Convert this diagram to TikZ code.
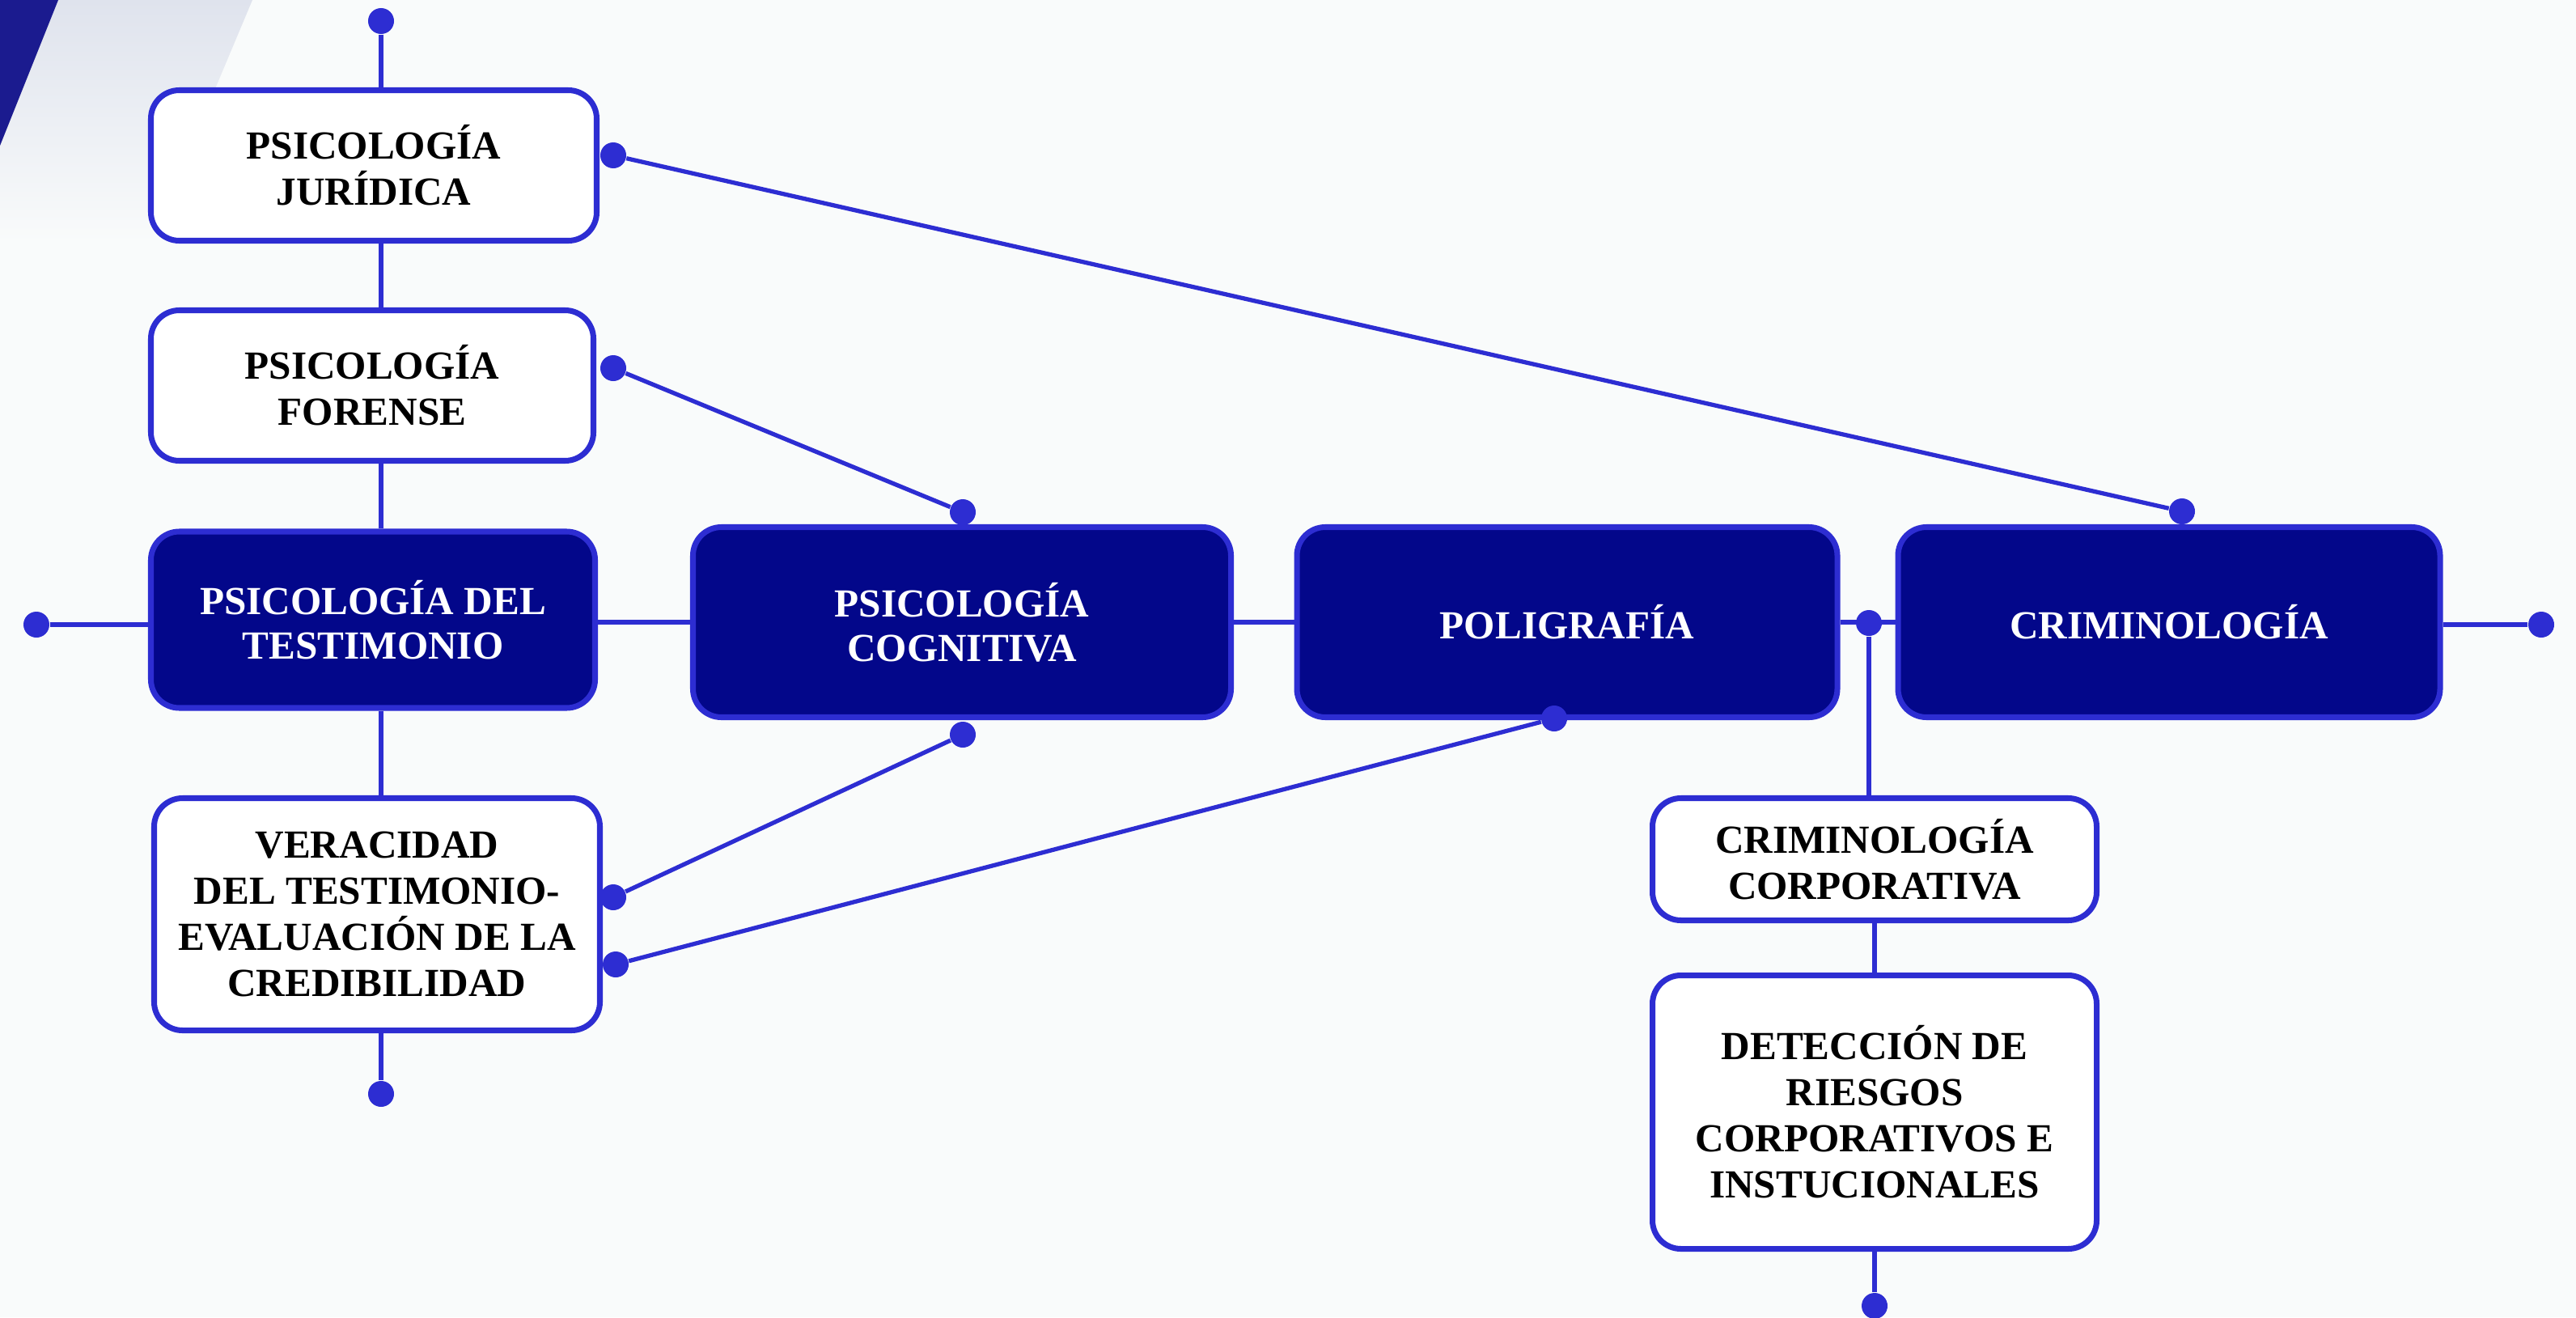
\documentclass[tikz,border=0pt]{standalone}
\usepackage{fontspec}
\setmainfont{Liberation Serif}
\usetikzlibrary{positioning}
\definecolor{bgpage}{HTML}{F9FBFB}
\definecolor{edgeblue}{HTML}{2D2DD2}
\definecolor{navyfill}{HTML}{03078A}
\definecolor{cornernavy}{HTML}{1B1B8F}
\definecolor{bandgray}{HTML}{DFE3ED}
\tikzset{
    box/.style={draw=edgeblue, line width=2pt, rounded corners=10pt, align=center, inner sep=4pt},
    lightbox/.style={box, fill=white, text=black, font=\fontsize{14}{16.2}\selectfont\bfseries},
    darkbox/.style={box, fill=navyfill, text=white, font=\fontsize{14}{15.6}\selectfont\bfseries},
    link/.style={edgeblue, line width=1.5pt},
    dot/.style={circle, fill=edgeblue, inner sep=0pt, minimum size=0.32cm}
}

\begin{document}
\begin{tikzpicture}

\useasboundingbox (0,0) rectangle (31.84,-16.28);
\fill[bgpage] (0,0) rectangle (31.84,-16.28);

% corner decoration
\begin{scope}
    \clip (0,0) rectangle (31.84,-16.28);
    \shade[top color=bandgray, bottom color=bgpage] (0.72,0) -- (3.12,0) -- (1.86,-3.0) -- (-0.48,-3.0) -- cycle;
    \fill[cornernavy] (0,0) -- (0.72,0) -- (0,-1.80) -- cycle;
\end{scope}

% left column
\node[lightbox, minimum width=5.51cm, minimum height=1.86cm] (jur) at (4.62,-2.045) {PSICOLOGÍA\\JURÍDICA};
\node[lightbox, minimum width=5.47cm, minimum height=1.86cm] (for) at (4.60,-4.765) {PSICOLOGÍA\\FORENSE};
\node[darkbox, minimum width=5.49cm, minimum height=2.18cm] (tes) at (4.61,-7.66) {PSICOLOGÍA DEL\\TESTIMONIO};
\node[lightbox, minimum width=5.51cm, minimum height=2.87cm] (ver) at (4.66,-11.30) {VERACIDAD\\DEL TESTIMONIO-\\EVALUACIÓN DE LA\\CREDIBILIDAD};

% main row
\node[darkbox, minimum width=6.65cm, minimum height=2.35cm] (cog) at (11.89,-7.69) {PSICOLOGÍA\\COGNITIVA};
\node[darkbox, minimum width=6.68cm, minimum height=2.35cm] (pol) at (19.37,-7.69) {POLIGRAFÍA};
\node[darkbox, minimum width=6.70cm, minimum height=2.35cm] (cri) at (26.81,-7.69) {CRIMINOLOGÍA};

% right column
\node[lightbox, minimum width=5.49cm, minimum height=1.51cm] (cc) at (23.17,-10.62) {CRIMINOLOGÍA\\CORPORATIVA};
\node[lightbox, minimum width=5.49cm, minimum height=3.38cm] (det) at (23.17,-13.745) {DETECCIÓN DE\\RIESGOS\\CORPORATIVOS E\\INSTUCIONALES};

% end points
\node[dot] (topend) at (4.71,-0.26) {};
\node[dot] (botend) at (4.71,-13.52) {};
\node[dot] (leftend) at (0.45,-7.72) {};
\node[dot] (rightend) at (31.41,-7.72) {};
\node[dot] (split) at (23.10,-7.70) {};
\node[dot] (detend) at (23.17,-16.14) {};
\node[dot] (jurpin) at (7.58,-1.92) {};
\node[dot] (forpin) at (7.58,-4.55) {};
\node[dot] (verpinA) at (7.58,-11.09) {};
\node[dot] (verpinB) at (7.61,-11.92) {};
\node[dot] (cogtop) at (11.90,-6.33) {};
\node[dot] (cogbot) at (11.90,-9.08) {};
\node[dot] (polbot) at (19.21,-8.88) {};
\node[dot] (critop) at (26.97,-6.32) {};

% vertical links
\draw[link] (topend) -- (topend |- jur.north);
\draw[link] (jur.south -| topend) -- (for.north -| topend);
\draw[link] (for.south -| topend) -- (tes.north -| topend);
\draw[link] (tes.south -| topend) -- (ver.north -| topend);
\draw[link] (ver.south -| botend) -- (botend);
\draw[link] (split) -- (split |- cc.north);
\draw[link] (cc.south) -- (det.north);
\draw[link] (det.south) -- (detend);

% horizontal links
\draw[link] (leftend) -- (leftend -| tes.west);
\draw[link] (tes.east |- cog.west) -- (cog.west);
\draw[link] (cog.east) -- (pol.west);
\draw[link] (pol.east) -- (cri.west);
\draw[link] (cri.east |- rightend) -- (rightend);

% cross links
\draw[link] (jurpin) -- (critop);
\draw[link] (forpin) -- (cogtop);
\draw[link] (verpinA) -- (cogbot);
\draw[link] (verpinB) -- (polbot);

\end{tikzpicture}
\end{document}
